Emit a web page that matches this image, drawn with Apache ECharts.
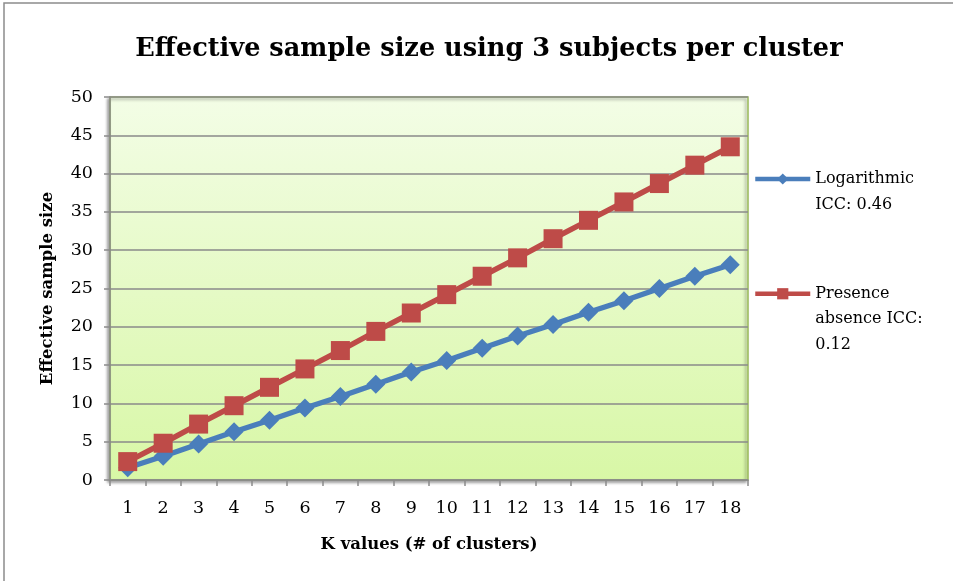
<!DOCTYPE html>
<html><head><meta charset="utf-8">
<script src="https://cdn.jsdelivr.net/npm/echarts@6/dist/echarts.min.js"></script>
<style>html,body{margin:0;padding:0;background:#fff}#c{width:953px;height:581px}</style>
</head><body><div id="c"></div>
<script>
const categories = ['1','2','3','4','5','6','7','8','9','10','11','12','13','14','15','16','17','18'];
const logarithmic = [1.6,3.1,4.7,6.3,7.8,9.4,10.9,12.5,14.1,15.6,17.2,18.8,20.3,21.9,23.4,25.0,26.6,28.1];
const presence = [2.4,4.8,7.3,9.7,12.1,14.5,16.9,19.4,21.8,24.2,26.6,29.0,31.5,33.9,36.3,38.7,41.1,43.5];
const seriesNames = ['Logarithmic ICC: 0.46', 'Presence absence ICC: 0.12'];
const legendLabels = ['\u00a0\nLogarithmic\nICC: 0.46', '\u00a0\n\u00a0\nPresence\nabsence ICC:\n0.12'];

const serif = '"DejaVu Serif", serif';
const chart = echarts.init(document.getElementById('c'), null, {renderer:'canvas'});
chart.setOption({
  animation:false,
  title:{text:'Effective sample size using 3 subjects per cluster', left:484, top:31, textAlign:'center',
    textStyle:{fontFamily:serif, fontWeight:'bold', fontSize:25.6, color:'#000'}},
  graphic:[{type:'rect', shape:{x:4,y:3,width:1000,height:700}, style:{fill:'none', stroke:'#8c8c8c', lineWidth:1.5}, silent:true, z:-10}],
  grid:{left:110, top:97, width:638, height:383, show:true,
    backgroundColor:new echarts.graphic.LinearGradient(0,0,0,1,[{offset:0,color:'#f3fde6'},{offset:1,color:'#d8f7a6'}]),
    borderColor:'#9bbb59', borderWidth:1.5, shadowColor:'rgba(0,0,0,0.35)', shadowBlur:3, shadowOffsetX:-2, shadowOffsetY:2},
  legend:[
    {data:[seriesNames[0]], left:753, top:179-39, itemWidth:55, itemHeight:14, padding:0,
      formatter:()=>legendLabels[0], lineStyle:{width:4.5},
      textStyle:{fontFamily:serif, fontSize:16, color:'#000', lineHeight:26}},
    {data:[seriesNames[1]], left:753, top:294-64, itemWidth:55, itemHeight:14, padding:0,
      formatter:()=>legendLabels[1], lineStyle:{width:4.5},
      textStyle:{fontFamily:serif, fontSize:16, color:'#000', lineHeight:25.5}}
  ],
  xAxis:{type:'category', data:categories, boundaryGap:true,
    name:'K values (# of clusters)', nameLocation:'middle', nameGap:56,
    nameTextStyle:{fontFamily:serif, fontWeight:'bold', fontSize:16.5, color:'#000'},
    axisLine:{lineStyle:{color:'#8a8a8a', width:1.5}},
    axisTick:{show:true, length:6, interval:0, lineStyle:{color:'#8a8a8a', width:1.5}},
    axisLabel:{fontFamily:serif, fontSize:17.5, color:'#000', margin:19}},
  yAxis:{type:'value', min:0, max:50, interval:5,
    name:'Effective sample size', nameLocation:'middle', nameGap:54, nameRotate:90,
    nameTextStyle:{fontFamily:serif, fontWeight:'bold', fontSize:16.5, color:'#000'},
    axisLine:{show:true, lineStyle:{color:'#8a8a8a', width:1.5}},
    axisTick:{show:true, length:6, lineStyle:{color:'#8a8a8a', width:1.5}},
    axisLabel:{fontFamily:serif, fontSize:17.5, color:'#000', margin:17},
    splitLine:{lineStyle:{color:'#8a8a8a', width:1.5}}},
  series:[
    {name:seriesNames[0], type:'line', data:logarithmic, symbol:'diamond', symbolSize:19,
      lineStyle:{color:'#4a7ebb', width:5.5}, itemStyle:{color:'#4a7ebb'}},
    {name:seriesNames[1], type:'line', data:presence, symbol:'rect', symbolSize:19,
      lineStyle:{color:'#be4b48', width:5.5}, itemStyle:{color:'#be4b48'}}
  ]
});
</script></body></html>
